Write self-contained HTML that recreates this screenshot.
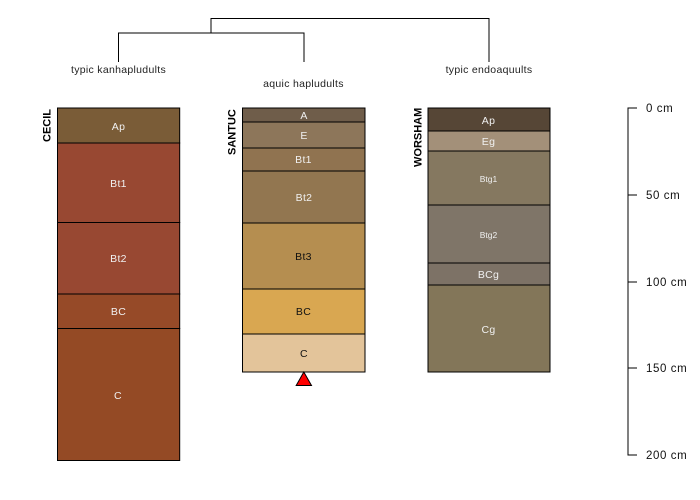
<!DOCTYPE html>
<html><head><meta charset="utf-8"><style>
html,body{margin:0;padding:0;background:#fff}
svg{display:block}
text{font-family:"Liberation Sans",sans-serif}
</style></head><body>
<svg width="700" height="500" viewBox="0 0 700 500" xmlns="http://www.w3.org/2000/svg">
<g fill="none" stroke="#000" stroke-width="1">
<path d="M211 33V18.500H489V62"/>
<path d="M118.500 62V33H304V62"/>
</g>
<g font-size="10.500" fill="#222" text-anchor="middle" letter-spacing="0.300">
<text x="118.500" y="73">typic kanhapludults</text>
<text x="303.500" y="87">aquic hapludults</text>
<text x="489" y="73">typic endoaquults</text>
</g>
<g stroke="#000" stroke-width="1">
<rect x="57.500" y="108" width="122.200" height="35" fill="#7A5C37"/>
<rect x="57.500" y="143" width="122.200" height="79.500" fill="#984832"/>
<rect x="57.500" y="222.500" width="122.200" height="71.500" fill="#984832"/>
<rect x="57.500" y="294" width="122.200" height="34.500" fill="#964A28"/>
<rect x="57.500" y="328.500" width="122.200" height="132" fill="#944A25"/>

<rect x="242.500" y="108" width="122.500" height="14" fill="#6F5D4A"/>
<rect x="242.500" y="122" width="122.500" height="26" fill="#8D765A"/>
<rect x="242.500" y="148" width="122.500" height="23" fill="#907350"/>
<rect x="242.500" y="171" width="122.500" height="52" fill="#927650"/>
<rect x="242.500" y="223" width="122.500" height="66" fill="#B58E50"/>
<rect x="242.500" y="289" width="122.500" height="45" fill="#D9A751"/>
<rect x="242.500" y="334" width="122.500" height="38" fill="#E3C49A"/>

<rect x="428" y="108" width="122" height="23" fill="#564636"/>
<rect x="428" y="131" width="122" height="20" fill="#A39079"/>
<rect x="428" y="151" width="122" height="54" fill="#857860"/>
<rect x="428" y="205" width="122" height="58" fill="#7F7568"/>
<rect x="428" y="263" width="122" height="22" fill="#7D7266"/>
<rect x="428" y="285" width="122" height="87" fill="#837659"/>
</g>
<g font-size="10.500" fill="#f0f0f0" text-anchor="middle" letter-spacing="0.300">
<text x="118.500" y="130">Ap</text>
<text x="118.500" y="187">Bt1</text>
<text x="118.500" y="262">Bt2</text>
<text x="118.500" y="315">BC</text>
<text x="118" y="399">C</text>
<text x="304" y="119">A</text>
<text x="304" y="139">E</text>
<text x="303.500" y="163">Bt1</text>
<text x="304" y="201">Bt2</text>
<text x="488.500" y="124">Ap</text>
<text x="488.500" y="145">Eg</text>
<text x="488.500" y="278">BCg</text>
<text x="488.500" y="333">Cg</text>
<text x="488.500" y="182" font-size="8.500" letter-spacing="0">Btg1</text>
<text x="488.500" y="238" font-size="8.500" letter-spacing="0">Btg2</text>
</g>
<g font-size="10.500" fill="#111" text-anchor="middle" letter-spacing="0.300">
<text x="303.500" y="260">Bt3</text>
<text x="303.500" y="315">BC</text>
<text x="304" y="357">C</text>
</g>
<g font-size="11" font-weight="bold" fill="#000">
<text transform="translate(50.500,142) rotate(-90)">CECIL</text>
<text transform="translate(235.500,155) rotate(-90)">SANTUC</text>
<text transform="translate(421.500,167) rotate(-90)">WORSHAM</text>
</g>
<polygon points="303.800,372 311.500,385.500 296.200,385.500" fill="#f00" stroke="#000" stroke-width="1"/>
<path d="M637 108H628V455H637M628 195H637M628 282H637M628 368H637" fill="none" stroke="#000" stroke-width="1"/>
<g font-size="11.500" fill="#111" letter-spacing="0.600">
<text x="646" y="112">0 cm</text>
<text x="646" y="199">50 cm</text>
<text x="646" y="286">100 cm</text>
<text x="646" y="372">150 cm</text>
<text x="646" y="459">200 cm</text>
</g>
</svg>
</body></html>
